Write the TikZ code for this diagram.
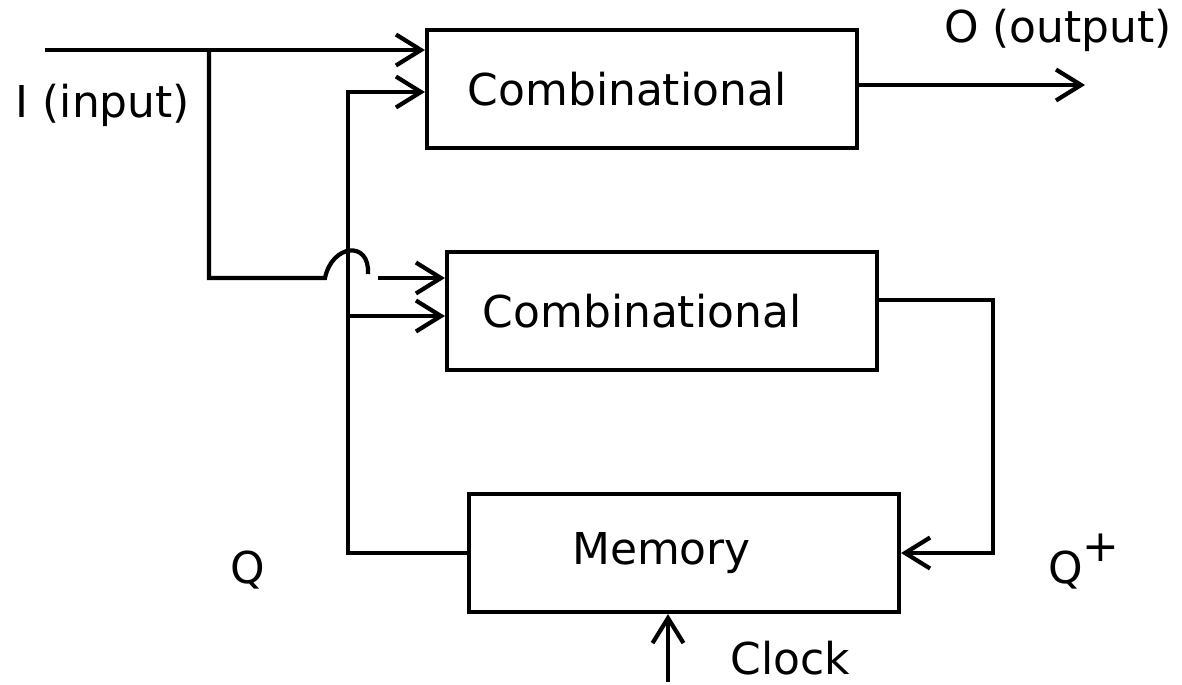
\documentclass[tikz,border=0pt]{standalone}
\usepackage{fontspec}
\setmainfont{DejaVu Sans}
\usetikzlibrary{arrows.meta}
\tikzstyle{block}=[draw,line width=2.4pt,minimum width=8.6cm,minimum height=2.36cm,inner sep=0pt]
\tikzstyle{wire}=[line width=2.4pt]

\begin{document}
\begin{tikzpicture}[x=0.02cm,y=-0.02cm,>={Straight Barb[length=0.5cm,width=0.62cm]},font=\fontsize{25}{30}\selectfont]
\useasboundingbox (0,0) rectangle (1182,684);
\node[block] at (642,89) (comb1) {\hspace*{-0.6cm}Combinational};
\node[block] at (662,311) (comb2) {\hspace*{-0.8cm}Combinational};
\node[block] at (684,553) (mem) {\hspace*{-0.9cm}Memory};
\coordinate (in) at (45,50);
\coordinate (j1) at (209,50);
\coordinate (h1) at (325,278);
\coordinate (h2) at (368,274);
\coordinate (h3) at (378,278);
\coordinate (fb) at (348,92);
\coordinate (fb2) at (348,316);
\coordinate (out) at (1085,85);
\coordinate (qp) at (993,300);
\coordinate (clk) at (668,682);
\draw[wire,->] (in) -- (comb1.west |- j1);
\draw[wire] (j1) |- (h1) .. controls (332,244) and (370,240) .. (h2);
\draw[wire,->] (h3) -- (comb2.west |- h3);
\draw[wire,->] (mem.west) -| (fb) -- (comb1.west |- fb);
\draw[wire,->] (fb2) -- (comb2.west |- fb2);
\draw[wire,->] (comb1.east |- out) -- (out);
\draw[wire,->] (comb2.east |- qp) -- (qp) |- (mem.east);
\draw[wire,->] (clk) -- (mem.south -| clk);
\node at (103,105) (inlabel) {I (input)};
\node at (1058,30) (outlabel) {O (output)};
\node at (790,658) (clklabel) {Clock};
\node at (248,570) (q) {Q};
\node at (1084,562) (qplus) {Q\raisebox{0.5em}{+}};
\end{tikzpicture}
\end{document}
